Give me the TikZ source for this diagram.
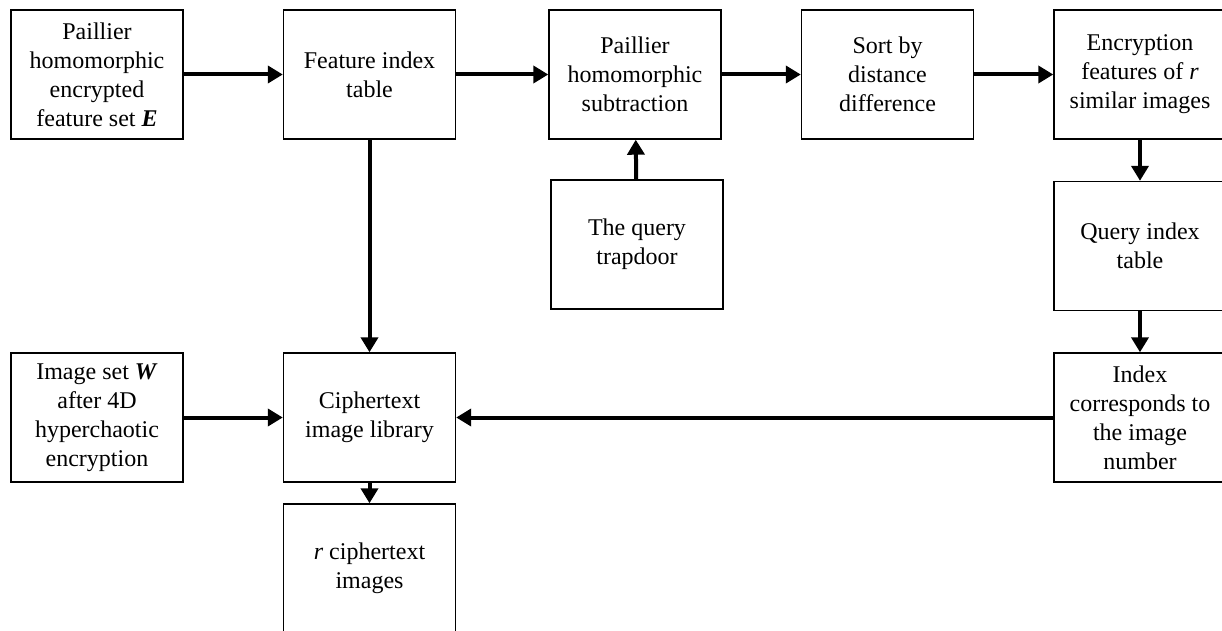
\documentclass[tikz,border=0pt]{standalone}
\usepackage{fontspec}
\setmainfont{Liberation Serif}
\usetikzlibrary{arrows.meta, positioning}

\begin{document}
\begin{tikzpicture}[x=0.5pt, y=-0.5pt,
    blk/.style={draw, line width=0.7pt, minimum width=86pt, minimum height=64.5pt,
                inner sep=2pt, font=\fontsize{12}{14.5}\selectfont, align=center},
    flow/.style={-{Triangle[length=7.5pt, width=8.5pt]}, line width=2pt}
  ]
    \useasboundingbox (0,0) rectangle (1222,631);
    \node[blk] (encset) at (97,74.5) {Paillier\\homomorphic\\encrypted\\feature set \textbf{\textit{E}}};
    \node[blk] (fidx) at (369.5,74.5) {Feature index\\table};
    \node[blk] (psub) at (635,74.5) {Paillier\\homomorphic\\subtraction};
    \node[blk] (sort) at (887.5,74.5) {Sort by\\distance\\difference};
    \node[blk] (rfeat) at (1140,74.5) {Encryption\\features of \textit{r}\\similar images};
    \node[blk] (trap) at (637,244.5) {The query\\trapdoor};
    \node[blk] (qidx) at (1140,246) {Query index\\table};
    \node[blk] (imgset) at (97,417.5) {Image set \textbf{\textit{W}}\\after 4D\\hyperchaotic\\encryption};
    \node[blk] (lib) at (369.5,417.5) {Ciphertext\\image library};
    \node[blk] (imgno) at (1140,417.5) {Index\\corresponds to\\the image\\number};
    \node[blk] (rimg) at (369.5,568.5) {\textit{r} ciphertext\\images};

    \draw[flow] (encset) -- (fidx);
    \draw[flow] (fidx) -- (psub);
    \draw[flow] (psub) -- (sort);
    \draw[flow] (sort) -- (rfeat);
    \draw[flow] (trap) -- (psub);
    \draw[flow] (rfeat) -- (qidx);
    \draw[flow] (qidx) -- (imgno);
    \draw[flow] (imgno) -- (lib);
    \draw[flow] (fidx) -- (lib);
    \draw[flow] (imgset) -- (lib);
    \draw[flow] (lib) -- (rimg);
  \end{tikzpicture}
\end{document}
